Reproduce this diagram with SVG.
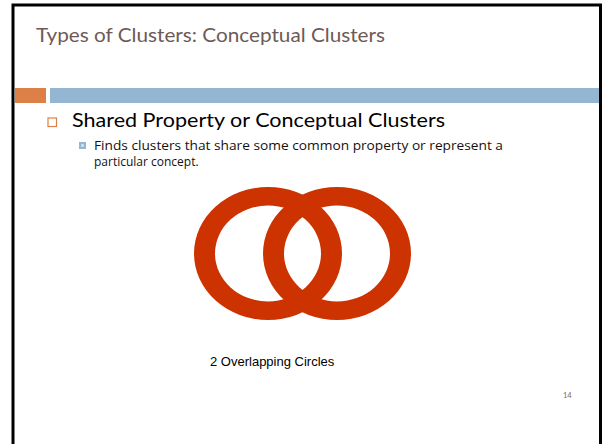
<svg xmlns="http://www.w3.org/2000/svg" width="602" height="444" viewBox="0 0 602 444">
  <style>
    .title { font-family: Lato, "Liberation Sans", sans-serif; font-size: 19px; fill: #6E5A55; }
    .lvl1 { font-family: Lato, "Liberation Sans", sans-serif; font-size: 20px; fill: #000000; }
    .lvl2 { font-family: "Open Sans", "Liberation Sans", sans-serif; font-size: 12px; fill: #111111; }
    .caption { font-family: "Liberation Sans", Arial, sans-serif; font-size: 13px; fill: #000000; }
    .pageno { font-family: Lato, "Liberation Sans", sans-serif; font-size: 7.5px; fill: #7A6A66; }
    .ring { fill: #CC3300; fill-rule: evenodd; }
  </style>

  <!-- slide background and frame -->
  <rect x="0" y="0" width="602" height="444" fill="#FFFFFF"/>
  <path d="M13 444 V5 H600.5 V444" fill="none" stroke="#000000" stroke-width="3"/>

  <!-- heading -->
  <text class="title" x="36" y="42" textLength="349" lengthAdjust="spacingAndGlyphs">Types of Clusters: Conceptual Clusters</text>

  <!-- accent band -->
  <rect x="15" y="88" width="31" height="15" fill="#DD8047"/>
  <rect x="50" y="88" width="549" height="15" fill="#94B6D2"/>

  <!-- bullet list -->
  <rect x="48" y="118" width="8.5" height="8.5" fill="none" stroke="#DD8047" stroke-width="1.2"/>
  <text class="lvl1" x="72" y="126.5" textLength="373" lengthAdjust="spacingAndGlyphs">Shared Property or Conceptual Clusters</text>

  <rect x="79" y="142" width="7" height="7" fill="#94B6D2"/>
  <rect x="81.3" y="144.3" width="2.4" height="2.4" fill="#E6EEF5"/>
  <text class="lvl2" x="94" y="149.5" textLength="409" lengthAdjust="spacingAndGlyphs">Finds clusters that share some common property or represent a</text>
  <text class="lvl2" x="94" y="165.5">particular concept.</text>

  <!-- two overlapping rings -->
  <g id="ring-left">
    <path class="ring" d="M194 253.5 a74 66.5 0 1 0 148 0 a74 66.5 0 1 0 -148 0 Z M215 253.5 a53 48 0 1 0 106 0 a53 48 0 1 0 -106 0 Z"/>
  </g>
  <g id="ring-right">
    <path class="ring" d="M263 253.5 a74 66.5 0 1 0 148 0 a74 66.5 0 1 0 -148 0 Z M284 253.5 a53 48 0 1 0 106 0 a53 48 0 1 0 -106 0 Z"/>
  </g>

  <text class="caption" x="210" y="366">2 Overlapping Circles</text>
  <text class="pageno" x="563" y="398">14</text>
</svg>
